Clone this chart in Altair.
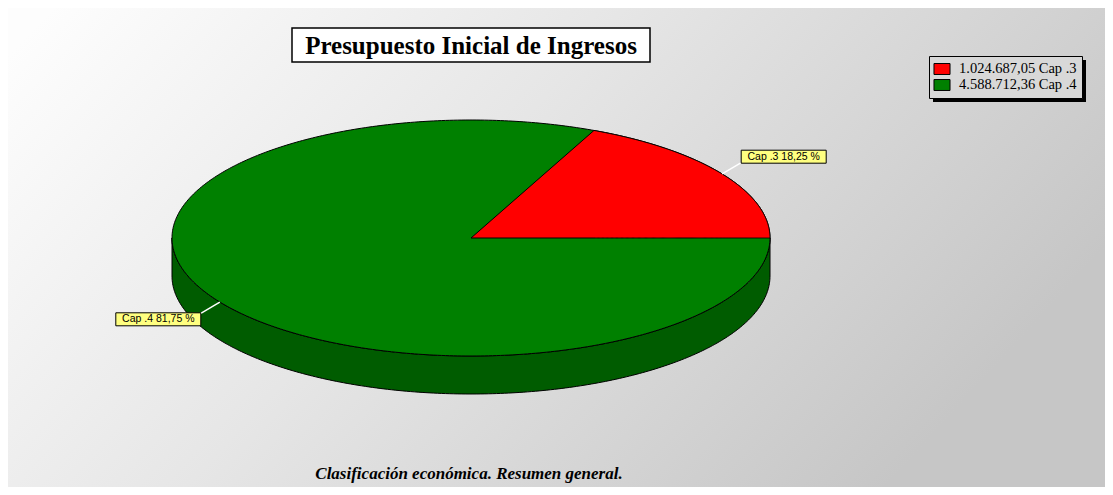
import altair as alt
import numpy as np
import pandas as pd

# ---------------- data ----------------
categorias = ["Cap .3", "Cap .4"]
importes = [1024687.05, 4588712.36]
importes_txt = ["1.024.687,05", "4.588.712,36"]
porcentajes_txt = ["18,25 %", "81,75 %"]
colores = ["#ff0000", "#008000"]
color_lateral = "#005c00"

titulo = "Presupuesto Inicial de Ingresos"
subtitulo = "Clasificación económica. Resumen general."

# ---------------- layout (pixels) ----------------
W, H = 1097, 479
CX, CY = 463, 230          # pie centre inside plot
A, B, D = 299, 118, 38     # ellipse semi-axes, wall depth
N = 240

total = sum(importes)
shares = [v / total for v in importes]
leyenda = [f"{t} {c}" for t, c in zip(importes_txt, categorias)]

# full top ellipse + wall
t = np.linspace(np.pi, 2 * np.pi, N)
ex = A * np.cos(t)
elow = B * np.sin(t)
top_df = pd.DataFrame({"x": ex, "y": -elow, "y2": elow, "etiqueta": leyenda[1]})
wall_df = pd.DataFrame({"x": ex, "y": elow, "y2": elow - D})

# first slice (sector from angle 0 counter-clockwise)
th1 = 2 * np.pi * shares[0]
ts = np.linspace(th1, 0, N)
sx = [0.0] + list(A * np.cos(ts))
sy = [0.0] + list(B * np.sin(ts))
slice_df = pd.DataFrame({"x": sx, "y": sy, "y2": 0.0, "etiqueta": leyenda[0]})

# labels
rows = []
cum = 0.0
for i, s in enumerate(shares):
    m = 2 * np.pi * (cum + s / 2)
    cum += s
    ax_, ay_ = A * np.cos(m), B * np.sin(m)
    lx, ly = ax_ * 1.245, ay_ * 1.27
    sgn = 1 if ax_ >= 0 else -1
    rows.append({
        "ax": ax_, "ay": ay_, "lx": lx, "ly": ly,
        "ex": lx - sgn * 42.5, "ey": ly - sgn * 6,
        "bx": lx - 42.5, "bx2": lx + 42.5, "by": ly - 6.5, "by2": ly + 6.5,
        "texto": f"{categorias[i]} {porcentajes_txt[i]}",
    })
lab_df = pd.DataFrame(rows)

xs = alt.Scale(domain=[-CX, W - CX], nice=False, zero=False)
ys = alt.Scale(domain=[CY - H, CY], nice=False, zero=False)
cscale = alt.Scale(domain=leyenda, range=colores)

one = pd.DataFrame({"k": [0]})

bg = alt.Chart(one).mark_rect(
    color=alt.LinearGradient(
        gradient="linear",
        stops=[alt.GradientStop(color="#fdfdfd", offset=0),
               alt.GradientStop(color="#e6e6e6", offset=0.45),
               alt.GradientStop(color="#c6c6c6", offset=1)],
        x1=0, y1=0.1, x2=1, y2=0.5),
).encode(x=alt.value(0), x2=alt.value(W), y=alt.value(0), y2=alt.value(H))

wall = alt.Chart(wall_df).mark_area(
    color=color_lateral, stroke="black", strokeWidth=1, interpolate="linear"
).encode(
    x=alt.X("x:Q", scale=xs, axis=None),
    y=alt.Y("y:Q", scale=ys, axis=None, stack=None),
    y2="y2:Q",
)

leg = alt.Legend(
    title=None, orient="none", legendX=921, legendY=48,
    fillColor="#d8d8d8", strokeColor="black", padding=5,
    symbolType="M-1.07,-0.73H1.07V0.73H-1.07Z", symbolSize=225,
    symbolStrokeColor="black", symbolStrokeWidth=1, symbolOpacity=1,
    labelFont="Liberation Serif", labelFontSize=14.5, labelColor="black",
    rowPadding=0, labelOffset=9,
)

top = alt.Chart(top_df).mark_area(
    stroke="black", strokeWidth=1, opacity=1, interpolate="linear"
).encode(
    x=alt.X("x:Q", scale=xs, axis=None),
    y=alt.Y("y:Q", scale=ys, axis=None, stack=None),
    y2="y2:Q",
    color=alt.Color("etiqueta:N", scale=cscale, legend=leg),
)

sector = alt.Chart(slice_df).mark_area(
    stroke="black", strokeWidth=1, opacity=1, interpolate="linear"
).encode(
    x=alt.X("x:Q", scale=xs, axis=None),
    y=alt.Y("y:Q", scale=ys, axis=None, stack=None),
    y2="y2:Q",
    color=alt.Color("etiqueta:N", scale=cscale, legend=leg),
)

leaders = alt.Chart(lab_df).mark_rule(color="white", strokeWidth=1.5).encode(
    x=alt.X("ax:Q", scale=xs, axis=None), y=alt.Y("ay:Q", scale=ys, axis=None),
    x2="ex:Q", y2="ey:Q",
)

boxes = alt.Chart(lab_df).mark_rect(fill="#ffff80", stroke="black", strokeWidth=1).encode(
    x=alt.X("bx:Q", scale=xs, axis=None), x2="bx2:Q",
    y=alt.Y("by:Q", scale=ys, axis=None), y2="by2:Q",
)

texts = alt.Chart(lab_df).mark_text(
    font="Liberation Sans", fontSize=10.5, color="black", baseline="middle", align="center"
).encode(
    x=alt.X("lx:Q", scale=xs, axis=None), y=alt.Y("ly:Q", scale=ys, axis=None),
    text="texto:N",
)

tbox = alt.Chart(one).mark_rect(fill="white", stroke="black", strokeWidth=1.5).encode(
    x=alt.value(284), x2=alt.value(642), y=alt.value(20), y2=alt.value(54)
)
ttext = alt.Chart(pd.DataFrame({"t": [titulo]})).mark_text(
    font="Liberation Serif", fontSize=25, fontWeight="bold", color="black",
    baseline="middle", align="center",
).encode(x=alt.value(463), y=alt.value(38), text="t:N")

cap = alt.Chart(pd.DataFrame({"t": [subtitulo]})).mark_text(
    font="Liberation Serif", fontSize=17, fontWeight="bold", fontStyle="italic",
    color="black", baseline="middle", align="center",
).encode(x=alt.value(461), y=alt.value(466), text="t:N")

shadow = alt.Chart(one).mark_rect(fill="black").encode(
    x=alt.value(925), x2=alt.value(1078), y=alt.value(52), y2=alt.value(94)
)

chart = alt.layer(
    bg, wall, top, sector, leaders, boxes, texts, tbox, ttext, cap, shadow
).properties(
    width=W, height=H, padding=0,
    autosize=alt.AutoSizeParams(type="fit", contains="padding"),
).configure_view(stroke=None)

chart.save("out.html", embed_options={"renderer": "svg", "actions": False})
